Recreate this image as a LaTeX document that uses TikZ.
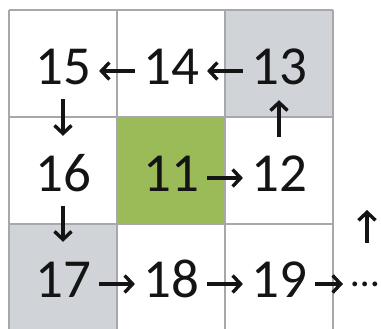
\documentclass[tikz,border=0pt]{standalone}
\usepackage{fontspec}
\setmainfont{Carlito}
\usepackage{tikz}
\usetikzlibrary{arrows.meta}
\definecolor{CellGray}{HTML}{D0D3D8}
\definecolor{CellGreen}{HTML}{9BBB59}
\definecolor{GridLine}{HTML}{A8A8A8}
\definecolor{Ink}{HTML}{141414}

\begin{document}
\begin{tikzpicture}[x=1pt,y=1pt,
  num/.style={inner sep=0pt,text height=32pt,text depth=4pt,anchor=base,
    font=\fontsize{55}{55}\selectfont,text=Ink},
  gridline/.style={draw=GridLine,line width=1.2pt},
  arr/.style={-{Straight Barb[length=8pt,width=17pt,line width=3.4pt]},line width=3.4pt,draw=Ink},
  across/.style={shorten <=8pt,shorten >=8pt},
  godown/.style={shorten <=10pt,shorten >=24pt},
  goup/.style={shorten <=23pt,shorten >=11pt}]
\useasboundingbox (0,0) rectangle (381,329);
% cells
\fill[CellGray] (225,212) rectangle (333,319);
\fill[CellGreen] (117,105) rectangle (225,212);
\fill[CellGray] (9,-3) rectangle (117,105);
\foreach \x in {9,117,225,333}
  \draw[gridline] (\x,-3) -- (\x,319);
\foreach \y in {319,212,105}
  \draw[gridline] (9,\y) -- (333,\y);
% numbers
\foreach \n/\x/\y in {15/63/244,14/171/244,13/279/244,
    16/63/137,11/171/137,12/279/137,
    17/63/31,18/171/31,19/279/31}
  \node[num] (n\n) at (\x,\y) {\n};
\node[inner sep=0pt,anchor=base west,font=\fontsize{40}{40}\selectfont,text=Ink]
  (dots) at (351,42) {…};
\coordinate (upend) at (367,119);
% path
\foreach \a/\b in {14/15,13/14,11/12,17/18,18/19}
  \draw[arr,across] (n\a) -- (n\b);
\draw[arr,across] (n19) -- (n19 -| dots.west);
\draw[arr,godown] (n15) -- (n16);
\draw[arr,godown] (n16) -- (n17);
\draw[arr,goup] (n12) -- (n13);
\draw[arr] (upend |- 0,86) -- (upend);
\end{tikzpicture}
\end{document}
